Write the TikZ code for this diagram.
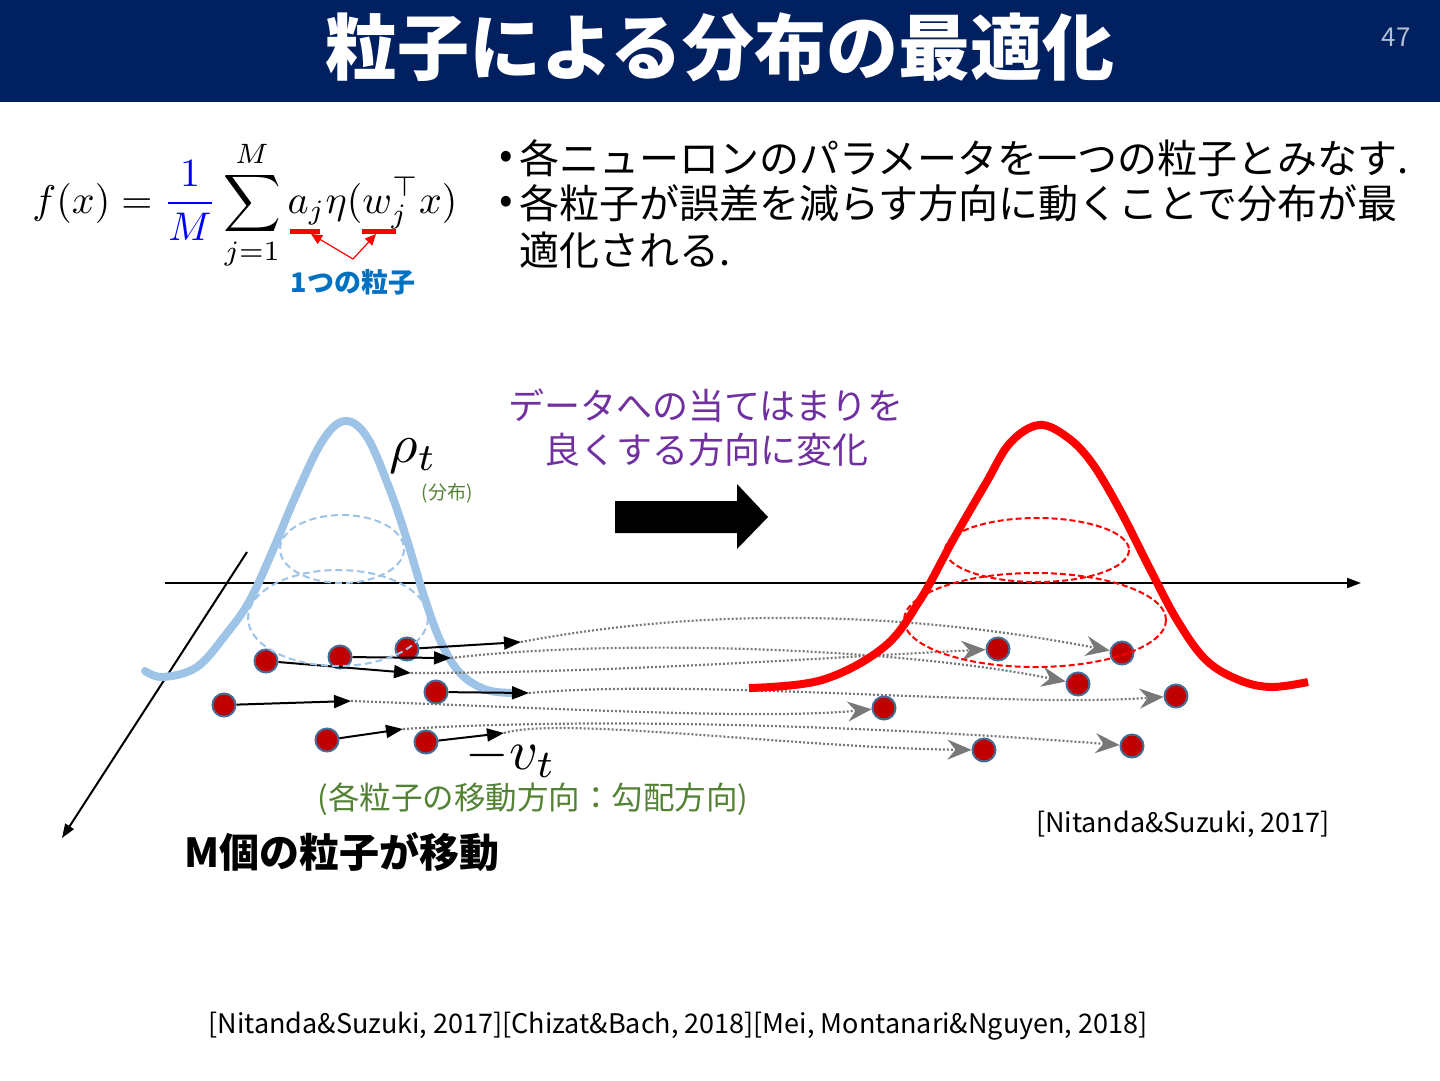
\documentclass[tikz,border=0pt]{standalone}
\usepackage{graphicx}
\usepackage{fontspec}
\setmainfont{Noto Sans CJK JP}
\usetikzlibrary{arrows.meta}
\definecolor{navy}{RGB}{0,32,96}
\definecolor{pgnum}{RGB}{180,190,210}
\definecolor{jblue}{RGB}{0,112,192}
\definecolor{jpurple}{RGB}{112,48,160}
\definecolor{jgreen}{RGB}{84,130,53}
\definecolor{lblue}{RGB}{157,195,230}
\definecolor{pred}{RGB}{192,0,0}
\definecolor{pedge}{RGB}{68,110,150}
\definecolor{dgray}{RGB}{120,120,120}
\begin{document}
\begin{tikzpicture}[x=1pt,y=-1pt,
  particle/.style={circle,fill=pred,draw=pedge,line width=2pt,minimum size=23pt,inner sep=0pt},
  barrow/.style={line width=2pt,-{Triangle[length=17pt,width=13pt]}},
  dotpath/.style={dgray,line width=2.2pt,dash pattern=on 2pt off 2pt,-{Stealth[length=24pt,width=20pt,inset=8pt]}},
  axisline/.style={line width=2pt,-{Triangle[length=14pt,width=10pt]}},
  txt/.style={inner sep=0pt,outer sep=0pt}]
\useasboundingbox (0,0) rectangle (1440,1080);
\fill[white] (0,0) rectangle (1440,1080);
% title band
\fill[navy] (0,0) rectangle (1440,102);
\node[txt,text=white,font=\fontsize{72}{80}\selectfont\bfseries] (title) at (720,47) {粒子による分布の最適化};
\node[txt,text=pgnum,font=\fontsize{26}{30}\selectfont] (pg) at (1396,37) {47};

% formula
\node[txt] (formula) at (245,205)
  {\scalebox{4}{$\displaystyle f(x)=\textcolor{blue}{\frac{1}{M}}\sum_{j=1}^{M}a_j\eta(w_j^{\top}x)$}};
\coordinate (ua1) at (290,231); \coordinate (ua2) at (320,231);
\coordinate (ub1) at (362,231); \coordinate (ub2) at (396,231);
\draw[red,line width=5pt] (ua1) -- (ua2);
\draw[red,line width=5pt] (ub1) -- (ub2);
\coordinate (apex) at (353,259);
\coordinate (ta) at (311,234);
\coordinate (tb) at (376,234);
\draw[red,line width=1.2pt,-{Triangle[length=11pt,width=10pt]}] (apex) -- (ta);
\draw[red,line width=1.2pt,-{Triangle[length=11pt,width=10pt]}] (apex) -- (tb);
\node[txt,text=jblue,font=\fontsize{27}{30}\selectfont\bfseries] (one) at (353,282) {1つの粒子};

% bullets
\node[txt,font=\fontsize{40}{46}\selectfont] (bu1) at (506,160) {•};
\node[txt,font=\fontsize{40}{46}\selectfont] (bu2) at (506,205) {•};
\node[txt,anchor=west,font=\fontsize{40}{46}\selectfont] (l1) at (519,158) {各ニューロンのパラメータを一つの粒子とみなす.};
\node[txt,anchor=west,font=\fontsize{40}{46}\selectfont] (l2) at (519,203) {各粒子が誤差を減らす方向に動くことで分布が最};
\node[txt,anchor=west,font=\fontsize{40}{46}\selectfont] (l3) at (519,250) {適化される.};

% purple text and big arrow
\node[txt,text=jpurple,font=\fontsize{36}{44}\selectfont] (p1) at (706,406) {データへの当てはまりを};
\node[txt,text=jpurple,font=\fontsize{36}{44}\selectfont] (p2) at (706,450) {良くする方向に変化};
\fill[black] (615,501) -- (737,501) -- (737,484) -- (768,517) -- (737,549) -- (737,533) -- (615,533) -- cycle;

% axes
\coordinate (hx0) at (165,583); \coordinate (hx1) at (1361,583);
\coordinate (dx0) at (247,552); \coordinate (dx1) at (62,838);
\draw[axisline] (hx0) -- (hx1);
\draw[axisline] (dx0) -- (dx1);

% blue curve
\draw[lblue,line width=8pt,line cap=round] plot[smooth,tension=0.6] coordinates {
 (145,671) (163,677) (197,667) (227,633) (250,600) (273,550) (297,493) (323,440) (345,421)
 (367,437) (390,490) (407,540) (423,593) (440,640) (460,673) (487,690) (518,693)};

% particles left
\node[particle] (P1) at (266,661) {};
\node[particle] (P2) at (340,657) {};
\node[particle] (P3) at (407,649) {};
\node[particle] (P4) at (224,705) {};
\node[particle] (P5) at (436,692) {};
\node[particle] (P6) at (327,740) {};
\node[particle] (P7) at (426,742) {};
% particles right
\node[particle] (R1) at (998,649) {};
\node[particle] (R2) at (1122,653) {};
\node[particle] (R3) at (1078,684) {};
\node[particle] (R4) at (1176,696) {};
\node[particle] (R5) at (884,708) {};
\node[particle] (R6) at (984,750) {};
\node[particle] (R7) at (1132,746) {};

% arrow tips
\coordinate (t1) at (411,673);
\coordinate (t2) at (451,658);
\coordinate (t3) at (521,642);
\coordinate (t4) at (351,701);
\coordinate (t5) at (529,693);
\coordinate (t6) at (403,729);
\coordinate (t7) at (504,733);

% dotted paths
\draw[dotpath] (t3) .. controls (700,608) and (900,610) .. (R2);
\draw[dotpath] (t2) .. controls (620,638) and (900,648) .. (R3);
\draw[dotpath] (t1) .. controls (620,673) and (850,656) .. (R1);
\draw[dotpath] (t5) .. controls (700,678) and (1000,708) .. (R4);
\draw[dotpath] (t4) .. controls (550,708) and (760,720) .. (R5);
\draw[dotpath] (t6) .. controls (620,716) and (900,728) .. (R7);
\draw[dotpath] (t7) .. controls (560,716) and (800,748) .. (R6);

% black arrows
\draw[barrow] (P1) -- (t1);
\draw[barrow] (P2) -- (t2);
\draw[barrow] (P3) -- (t3);
\draw[barrow] (P4) -- (t4);
\draw[barrow] (P5) -- (t5);
\draw[barrow] (P6) -- (t6);
\draw[barrow] (P7) -- (t7);

% blue dashed ellipses
\draw[lblue,line width=2pt,dash pattern=on 7pt off 4pt] (342,549) ellipse [x radius=62,y radius=34];
\draw[lblue,line width=2pt,dash pattern=on 7pt off 4pt] (338,618) ellipse [x radius=90,y radius=48];

% red dashed ellipses
\draw[red,line width=2pt,dash pattern=on 6pt off 3pt] (1037,550) ellipse [x radius=92,y radius=32];
\draw[red,line width=2pt,dash pattern=on 6pt off 3pt] (1035,620) ellipse [x radius=131,y radius=47];

% red curve
\draw[red,line width=8pt] plot[smooth,tension=0.6] coordinates {
 (749,688) (822,680) (884,647) (920,600) (953,540) (986,483) (1010,443) (1039,425)
 (1067,437) (1092,463) (1120,510) (1149,567) (1177,620) (1206,660) (1239,680) (1271,687) (1308,682)};

% labels
\node[txt] (rho) at (413,456) {\scalebox{5.5}{$\rho_t$}};
\node[txt,text=jgreen,font=\fontsize{19}{22}\selectfont] (bunpu) at (447,493) {(分布)};
\node[txt] (vt) at (511,757) {\scalebox{5.6}{$-v_t$}};
\node[txt,text=jgreen,font=\fontsize{31.5}{36}\selectfont] (dir) at (533,799) {(各粒子の移動方向：勾配方向)};
\node[txt,font=\fontsize{40}{46}\selectfont\bfseries] (mmove) at (342,852) {M個の粒子が移動};
\node[txt,font=\fontsize{27}{30}\selectfont] (ref1) at (1183,824) {[Nitanda\&Suzuki, 2017]};
\node[txt,font=\fontsize{27}{30}\selectfont] (ref2) at (678,1026) {[Nitanda\&Suzuki, 2017][Chizat\&Bach, 2018][Mei, Montanari\&Nguyen, 2018]};
\end{tikzpicture}
\end{document}
